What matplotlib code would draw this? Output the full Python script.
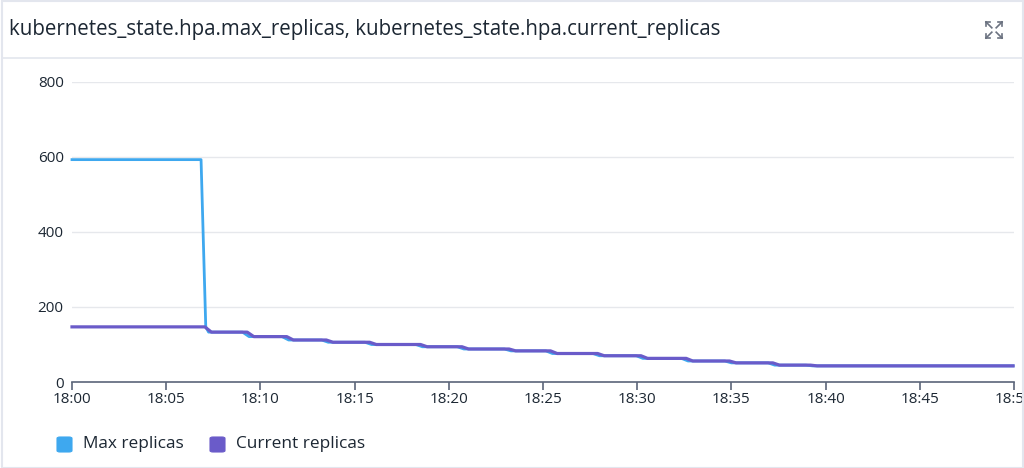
import matplotlib
matplotlib.use("Agg")
import matplotlib.pyplot as plt
from matplotlib.patches import FancyBboxPatch, Rectangle
from matplotlib.lines import Line2D

plt.rcParams['font.family'] = ['Open Sans', 'DejaVu Sans']

title = "kubernetes_state.hpa.max_replicas, kubernetes_state.hpa.current_replicas"
series_names = ["Max replicas", "Current replicas"]
tick_minutes = [0, 5, 10, 15, 20, 25, 30, 35, 40, 45, 50]
tick_labels = ["18:00", "18:05", "18:10", "18:15", "18:20", "18:25",
               "18:30", "18:35", "18:40", "18:45", "18:50"]
y_ticks = [0, 200, 400, 600, 800]

# minutes after 18:00
max_t = [0, 6.85, 7.1, 7.25, 9.05, 9.4, 11.15, 11.5, 13.25, 13.6, 15.55, 15.9,
         18.25, 18.6, 20.45, 20.8, 22.95, 23.3, 25.15, 25.5, 27.65, 28.0,
         29.95, 30.3, 32.35, 32.7, 34.65, 35.0, 36.95, 37.3, 38.95, 39.3, 49.95]
max_v = [593, 593, 147, 133, 133, 121, 121, 112, 112, 106, 106, 100,
         100, 94, 94, 88, 88, 83, 83, 76, 76, 70,
         70, 63, 63, 56, 56, 51, 51, 45, 45, 43, 43]

cur_t = [0, 7.05, 7.4, 9.3, 9.65, 11.4, 11.75, 13.5, 13.85, 15.8, 16.15,
         18.5, 18.85, 20.7, 21.05, 23.2, 23.55, 25.4, 25.75, 27.9, 28.25,
         30.2, 30.55, 32.6, 32.95, 34.9, 35.25, 37.2, 37.55, 39.2, 39.55, 49.95]
cur_v = [147, 147, 133, 133, 121, 121, 112, 112, 106, 106, 100,
         100, 94, 94, 88, 88, 83, 83, 76, 76, 70,
         70, 63, 63, 56, 56, 51, 51, 45, 45, 43, 43]

blue = "#3ea8ef"
purple = "#6a5bc9"
text_col = "#1c2733"
axis_col = "#5b6579"
grid_col = "#e6e8ec"
border_col = "#e3e6ee"

W, H = 1024, 468
fig = plt.figure(figsize=(W / 100, H / 100), dpi=100)
fig.patch.set_facecolor("white")

# panel border and header separator
fig.add_artist(Rectangle((2 / W, 0), (W - 3) / W, 1 - 1 / H, transform=fig.transFigure,
                         fill=False, edgecolor=border_col, lw=1.5))
fig.add_artist(Line2D([2 / W, 1], [1 - 58 / H, 1 - 58 / H], transform=fig.transFigure,
                      color=border_col, lw=1.2))

fig.text(9 / W, 1 - 30 / H, title, fontsize=14.8, color=text_col, va="center", ha="left")

# expand icon
cx, cy, s, g = 994, 30, 8, 2.2
def fx(x): return x / W
def fy(y): return 1 - y / H
for dx, dy in [(-1, -1), (1, -1), (-1, 1), (1, 1)]:
    x0, y0 = cx + dx * g, cy + dy * g
    x1, y1 = cx + dx * s, cy + dy * s
    fig.add_artist(Line2D([fx(x0), fx(x1)], [fy(y0), fy(y1)], transform=fig.transFigure,
                          color="#6b7280", lw=1.2))
    fig.add_artist(Line2D([fx(x1), fx(x1 - dx * 4)], [fy(y1), fy(y1)], transform=fig.transFigure,
                          color="#6b7280", lw=1.2))
    fig.add_artist(Line2D([fx(x1), fx(x1)], [fy(y1), fy(y1 - dy * 4)], transform=fig.transFigure,
                          color="#6b7280", lw=1.2))

ax = fig.add_axes([72 / W, (H - 382) / H, 942 / W, 300 / H])
ax.set_facecolor("none")
ax.plot(max_t, max_v, color=blue, lw=2.0, solid_joinstyle="round", zorder=3, clip_on=False)
ax.plot(cur_t, cur_v, color=purple, lw=2.3, solid_joinstyle="round", zorder=4, clip_on=False)

ax.set_xlim(0, 50)
ax.set_ylim(0, 800)
ax.set_yticks(y_ticks)
ax.set_yticklabels([str(v) for v in y_ticks])
ax.set_xticks(tick_minutes)
ax.set_xticklabels(tick_labels)
for sp in ["top", "right", "left"]:
    ax.spines[sp].set_visible(False)
ax.spines["bottom"].set_color(axis_col)
ax.spines["bottom"].set_linewidth(1.2)
ax.tick_params(axis="y", length=0, pad=6, labelsize=11, labelcolor=text_col)
ax.tick_params(axis="x", length=6, width=1.2, color=axis_col, pad=1, labelsize=11,
               labelcolor=text_col)
ax.grid(axis="y", color=grid_col, lw=1)
ax.set_axisbelow(True)
ax.yaxis.get_gridlines()[0].set_visible(False)

# legend
for i, (name, col, x0) in enumerate([(series_names[0], blue, 57), (series_names[1], purple, 210)]):
    fig.add_artist(FancyBboxPatch((fx(x0), fy(452)), 15 / W, 15 / H,
                                  boxstyle="round,pad=0,rounding_size=0.003",
                                  transform=fig.transFigure, facecolor=col,
                                  edgecolor=col, lw=0.8))
    fig.text(fx(x0 + 26), fy(444), name, fontsize=12.4, color=text_col, va="center", ha="left")

fig.savefig("out.png", dpi=100)
